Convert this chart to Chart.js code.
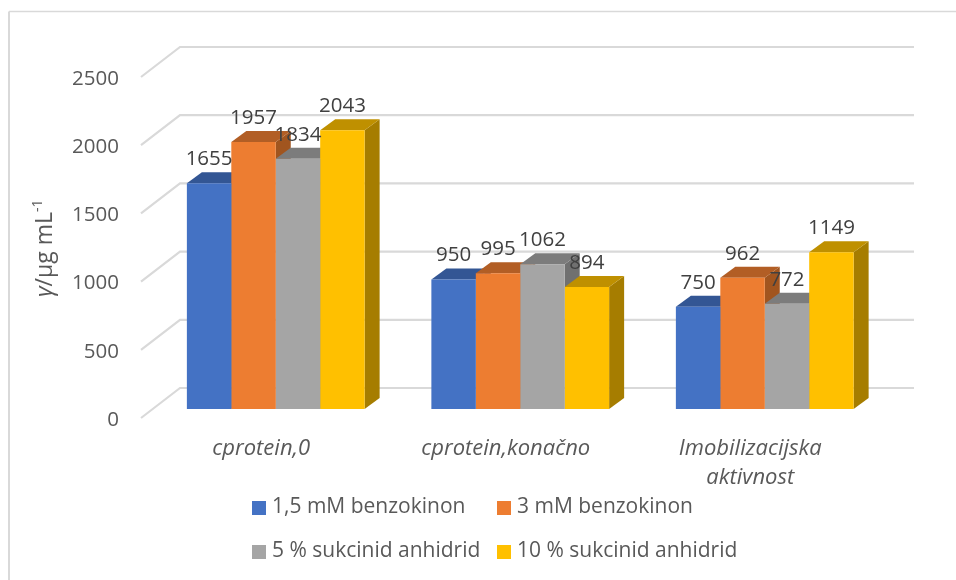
<!DOCTYPE html>
<html>
<head>
<meta charset="utf-8">
<title>Proteini</title>
<script src="https://cdn.jsdelivr.net/npm/chart.js@4"></script>
<style>
    html, body { margin: 0; padding: 0; background: #fff; }
    #wrap { width: 956px; height: 580px; position: relative; }
</style>
</head>
<body>
<div id="wrap"><canvas id="chart" width="956" height="580"></canvas></div>
<script>
const categories = ['cprotein,0', 'cprotein,konačno', ['Imobilizacijska', 'aktivnost']];
const seriesNames = ['1,5 mM benzokinon', '3 mM benzokinon', '5 % sukcinid anhidrid', '10 % sukcinid anhidrid'];
const benzokinon15 = [1655, 950, 750];
const benzokinon3 = [1957, 995, 962];
const sukcinid5 = [1834, 1062, 772];
const sukcinid10 = [2043, 894, 1149];

const frontColors = ['#4472C4', '#ED7D31', '#A5A5A5', '#FFC000'];
const topColors = ['#335694', '#B25E25', '#7C7C7C', '#BF9000'];
const sideColors = ['#2D4C86', '#A1551F', '#707070', '#A67D00'];

const FONT = '"Open Sans", sans-serif';

// fake 3D: walls, gridlines and the bar faces are offset from the bars' own scale
const threeD = {
    id: 'threeD',
    beforeDatasetsDraw(chart) {
        const ctx = chart.ctx;
        const y = chart.scales.y;
        const area = chart.chartArea;

        // chart frame
        ctx.save();
        ctx.strokeStyle = '#d9d9d9';
        ctx.lineWidth = 2;
        ctx.beginPath();
        ctx.moveTo(9, 580);
        ctx.lineTo(9, 11.5);
        ctx.stroke();
        ctx.lineWidth = 1.5;
        ctx.beginPath();
        ctx.moveTo(9, 11.5);
        ctx.lineTo(956, 11.5);
        ctx.stroke();

        // gridlines on the side and back wall
        ctx.strokeStyle = '#d9d9d9';
        ctx.lineWidth = 2.2;
        y.ticks.forEach(t => {
            const py = y.getPixelForValue(t.value);
            ctx.beginPath();
            ctx.moveTo(area.left - 12.5, py + 9);
            ctx.lineTo(area.left + 26.5, py - 21);
            ctx.lineTo(area.right + 27, py - 21);
            ctx.stroke();
        });

        // top and side faces, left to right
        const dx = 15, dy = 11;
        categories.forEach((c, i) => {
            seriesNames.forEach((s, d) => {
                const bar = chart.getDatasetMeta(d).data[i];
                const l = bar.x - bar.width / 2;
                const r = bar.x + bar.width / 2;
                ctx.fillStyle = sideColors[d];
                ctx.beginPath();
                ctx.moveTo(r, bar.y);
                ctx.lineTo(r + dx, bar.y - dy);
                ctx.lineTo(r + dx, bar.base - dy);
                ctx.lineTo(r, bar.base);
                ctx.closePath();
                ctx.fill();
                ctx.fillStyle = topColors[d];
                ctx.beginPath();
                ctx.moveTo(l, bar.y);
                ctx.lineTo(l + dx, bar.y - dy);
                ctx.lineTo(r + dx, bar.y - dy);
                ctx.lineTo(r, bar.y);
                ctx.closePath();
                ctx.fill();
            });
        });
        ctx.restore();
    },
    afterDatasetsDraw(chart) {
        const ctx = chart.ctx;
        ctx.save();

        // value labels
        ctx.font = '20.5px ' + FONT;
        ctx.fillStyle = '#404040';
        ctx.textAlign = 'center';
        ctx.textBaseline = 'middle';
        chart.data.datasets.forEach((ds, d) => {
            chart.getDatasetMeta(d).data.forEach((bar, i) => {
                ctx.fillText(ds.data[i], bar.x, bar.y - 24);
            });
        });

        // y axis title with italic gamma and superscript
        ctx.translate(52, 297);
        ctx.rotate(-Math.PI / 2);
        ctx.textAlign = 'left';
        ctx.textBaseline = 'alphabetic';
        ctx.fillStyle = '#595959';
        let x = 0;
        [['italic 23px ', 'γ', 0], ['23px ', '/µg mL', 0], ['14px ', '-1', -10]].forEach(p => {
            ctx.font = p[0] + FONT;
            ctx.fillText(p[1], x, p[2]);
            x += ctx.measureText(p[1]).width;
        });
        ctx.restore();

        // legend, two fixed columns
        ctx.save();
        const legendX = [252, 497];
        const legendY = [508, 552];
        ctx.font = '21px ' + FONT;
        ctx.textBaseline = 'middle';
        seriesNames.forEach((s, i) => {
            const lx = legendX[i % 2];
            const ly = legendY[Math.floor(i / 2)];
            ctx.fillStyle = frontColors[i];
            ctx.fillRect(lx, ly - 7, 14, 14);
            ctx.fillStyle = '#595959';
            ctx.fillText(s, lx + 20, ly - 1);
        });
        ctx.restore();
    }
};

new Chart(document.getElementById('chart'), {
    type: 'bar',
    data: {
        labels: categories,
        datasets: [
            { label: seriesNames[0], data: benzokinon15, backgroundColor: frontColors[0] },
            { label: seriesNames[1], data: benzokinon3, backgroundColor: frontColors[1] },
            { label: seriesNames[2], data: sukcinid5, backgroundColor: frontColors[2] },
            { label: seriesNames[3], data: sukcinid10, backgroundColor: frontColors[3] }
        ]
    },
    options: {
        responsive: false,
        animation: false,
        layout: { padding: { top: 68, right: 69, left: 0, bottom: 0 } },
        datasets: { bar: { categoryPercentage: 0.727, barPercentage: 1 } },
        plugins: { legend: { display: false }, tooltip: { enabled: false } },
        scales: {
            x: {
                afterFit(scale) { scale.height = 171; },
                grid: { display: false, drawTicks: false },
                border: { display: false },
                ticks: {
                    autoSkip: false,
                    maxRotation: 0,
                    padding: 25,
                    labelOffset: -14.5,
                    color: '#595959',
                    font: { family: FONT, size: 22, style: 'italic', lineHeight: 1.32 }
                }
            },
            y: {
                min: 0,
                max: 2500,
                afterFit(scale) { scale.width = 153.5; },
                grid: { display: false, drawTicks: false },
                border: { display: false },
                ticks: {
                    stepSize: 500,
                    padding: 34.5,
                    labelOffset: 11,
                    color: '#595959',
                    font: { family: FONT, size: 20.5 },
                    callback: v => String(v)
                }
            }
        }
    },
    plugins: [threeD]
});
</script>
</body>
</html>
